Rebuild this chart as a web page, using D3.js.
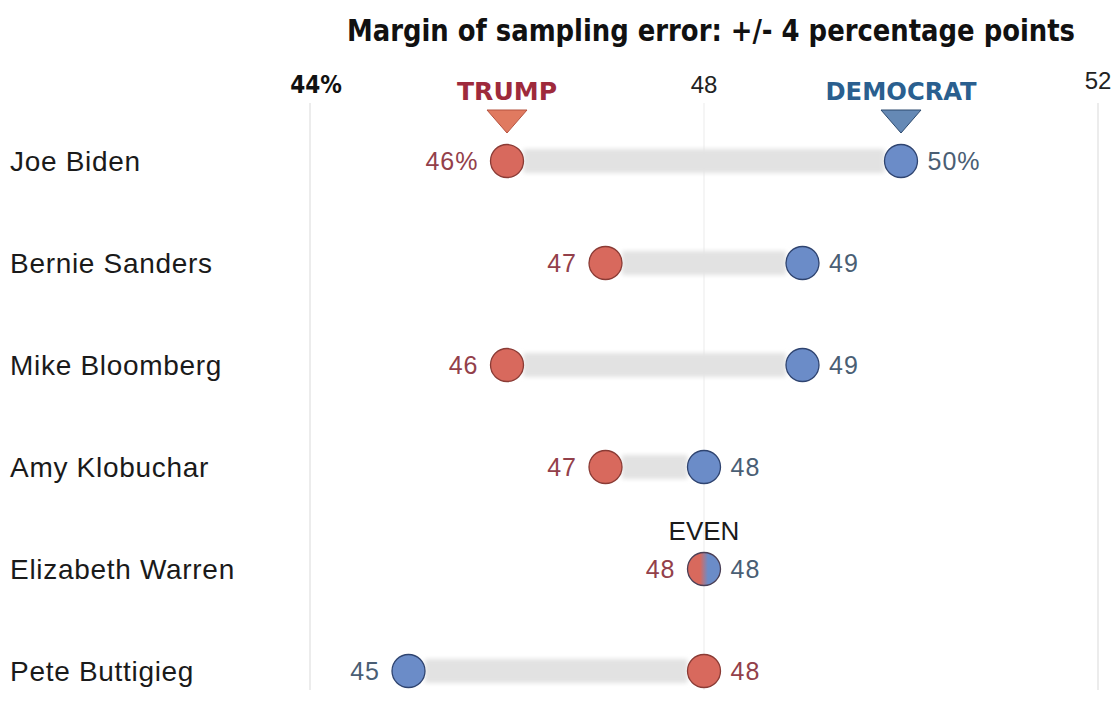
<!DOCTYPE html>
<html>
<head>
<meta charset="utf-8">
<script src="https://cdn.jsdelivr.net/npm/d3@7"></script>
<style>
  html, body { margin: 0; padding: 0; background: #ffffff; }
  svg { display: block; }
  text { font-family: "Liberation Sans", Arial, sans-serif; }
</style>
</head>
<body>
<svg id="chart" width="1120" height="706"></svg>
<script>
// Head-to-head poll results: Trump vs. each Democratic candidate (percent)
const candidates = ["Joe Biden", "Bernie Sanders", "Mike Bloomberg", "Amy Klobuchar", "Elizabeth Warren", "Pete Buttigieg"];
const trumpValues = [46, 47, 46, 47, 48, 48];
const democratValues = [50, 49, 49, 48, 48, 45];
const tickValues = [44, 48, 52];
const tickLabels = ["44%", "48", "52"];
const titleText = "Margin of sampling error: +/- 4 percentage points";

const RED = "#d8695d", RED_STROKE = "#8a3b35", RED_TEXT = "#93404a";
const BLUE = "#6b8cc8", BLUE_STROKE = "#2f4470", BLUE_TEXT = "#4a5e74";
const CONDENSED = "'DejaVu Sans Condensed', 'Liberation Sans Narrow', 'Arial Narrow', sans-serif";

const svg = d3.select("#chart");
const x = d3.scaleLinear().domain([44, 52]).range([310, 1098]);
const y = d3.scalePoint().domain(candidates).range([161, 671]);
const R = 16.5;

const defs = svg.append("defs");
defs.append("filter").attr("id", "soft")
  .attr("x", "-5%").attr("y", "-50%").attr("width", "110%").attr("height", "200%")
  .append("feGaussianBlur").attr("stdDeviation", 2.2);
const split = defs.append("linearGradient").attr("id", "split")
  .attr("x1", "0%").attr("x2", "100%").attr("y1", "0%").attr("y2", "0%");
split.append("stop").attr("offset", "0%").attr("stop-color", RED);
split.append("stop").attr("offset", "38%").attr("stop-color", RED);
split.append("stop").attr("offset", "62%").attr("stop-color", BLUE);
split.append("stop").attr("offset", "100%").attr("stop-color", BLUE);

// Title
svg.append("text")
  .attr("x", 711).attr("y", 41)
  .attr("text-anchor", "middle")
  .style("font-family", CONDENSED)
  .style("font-weight", "bold")
  .style("font-size", "30px")
  .attr("textLength", 728).attr("lengthAdjust", "spacingAndGlyphs")
  .attr("fill", "#111")
  .text(titleText);

// Gridlines
svg.append("g").selectAll("line").data(tickValues).join("line")
  .attr("x1", d => x(d)).attr("x2", d => x(d))
  .attr("y1", 103).attr("y2", 690)
  .attr("stroke", (d, i) => i === 1 ? "#f2f2f2" : "#e6e6e6")
  .attr("stroke-width", 1.5);

// Axis tick labels
svg.append("g").selectAll("text").data(tickValues).join("text")
  .attr("x", (d, i) => x(d) + (i === 0 ? 6 : 0))
  .attr("y", (d, i) => i === 2 ? 89 : 93)
  .attr("text-anchor", "middle")
  .style("font-family", (d, i) => i === 0 ? CONDENSED : null)
  .style("font-size", "24px")
  .style("font-weight", (d, i) => i === 0 ? "bold" : "normal")
  .attr("fill", (d, i) => i === 0 ? "#111" : "#222")
  .text((d, i) => tickLabels[i]);

// Series headers with pointer triangles above the first row
const headers = [
  { name: "TRUMP", value: trumpValues[0], color: "#9e2a3c", fill: "#e07a60", stroke: "#b5523e", width: 100 },
  { name: "DEMOCRAT", value: democratValues[0], color: "#2a5f8f", fill: "#6589b5", stroke: "#2d4a6e", width: 151 }
];
svg.append("g").selectAll("text").data(headers).join("text")
  .attr("x", d => x(d.value))
  .attr("y", 100)
  .attr("text-anchor", "middle")
  .style("font-family", CONDENSED)
  .style("font-size", "25px")
  .style("font-weight", "bold")
  .attr("textLength", d => d.width).attr("lengthAdjust", "spacingAndGlyphs")
  .attr("fill", d => d.color)
  .text(d => d.name);
svg.append("g").selectAll("path").data(headers).join("path")
  .attr("d", d => {
    const cx = x(d.value);
    return `M${cx - 20},110 L${cx + 20},110 L${cx},133 Z`;
  })
  .attr("fill", d => d.fill)
  .attr("stroke", d => d.stroke)
  .attr("stroke-width", 1);

// Candidate names
svg.append("g").selectAll("text").data(candidates).join("text")
  .attr("x", 10)
  .attr("y", d => y(d) + 10)
  .style("font-size", "28px")
  .style("letter-spacing", "0.7px")
  .attr("fill", "#1a1a1a")
  .text(d => d);

const rows = candidates.map((name, i) => ({
  name, i, trump: trumpValues[i], dem: democratValues[i]
}));

// Gap bars between the two results
svg.append("g").selectAll("rect").data(rows.filter(d => d.trump !== d.dem)).join("rect")
  .attr("x", d => x(Math.min(d.trump, d.dem)) + R)
  .attr("width", d => Math.abs(x(d.dem) - x(d.trump)) - 2 * R)
  .attr("y", d => y(d.name) - 12)
  .attr("height", 24)
  .attr("fill", "#e2e2e2")
  .attr("filter", "url(#soft)");

// Dots
const dots = svg.append("g");
rows.forEach(d => {
  const cy = y(d.name);
  if (d.trump === d.dem) {
    dots.append("circle").attr("cx", x(d.trump)).attr("cy", cy).attr("r", R)
      .attr("fill", "url(#split)").attr("stroke", "#4a3f55").attr("stroke-width", 1.3);
  } else {
    dots.append("circle").attr("cx", x(d.trump)).attr("cy", cy).attr("r", R)
      .attr("fill", RED).attr("stroke", RED_STROKE).attr("stroke-width", 1.3);
    dots.append("circle").attr("cx", x(d.dem)).attr("cy", cy).attr("r", R)
      .attr("fill", BLUE).attr("stroke", BLUE_STROKE).attr("stroke-width", 1.3);
  }
});

// Value labels: lower result on the left, higher on the right
const labels = [];
rows.forEach(d => {
  const suffix = d.i === 0 ? "%" : "";
  const trumpLeft = d.trump <= d.dem;
  labels.push({ row: d.name, value: d.trump, left: trumpLeft, color: RED_TEXT, text: d.trump + suffix });
  labels.push({ row: d.name, value: d.dem, left: !trumpLeft, color: BLUE_TEXT, text: d.dem + suffix });
});
svg.append("g").selectAll("text").data(labels).join("text")
  .attr("x", d => d.left ? x(d.value) - R - 12 : x(d.value) + R + 10)
  .attr("y", d => y(d.row) + 9)
  .attr("text-anchor", d => d.left ? "end" : "start")
  .style("font-size", "25px")
  .style("letter-spacing", "1px")
  .attr("fill", d => d.color)
  .text(d => d.text);

// Tie annotation
rows.filter(d => d.trump === d.dem).forEach(d => {
  svg.append("text")
    .attr("x", x(d.trump))
    .attr("y", y(d.name) - 29)
    .attr("text-anchor", "middle")
    .style("font-size", "26px")
    .attr("fill", "#1a1a1a")
    .text("EVEN");
});
</script>
</body>
</html>
